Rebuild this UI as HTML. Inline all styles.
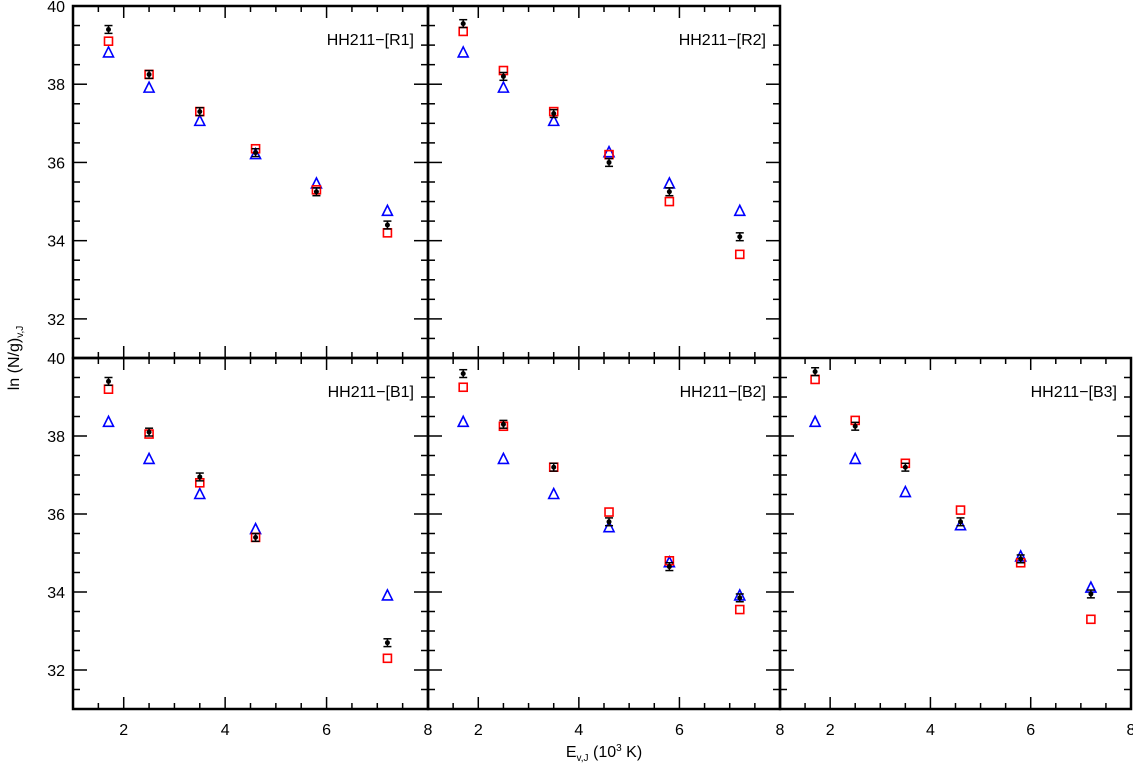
<!DOCTYPE html>
<html><head><meta charset="utf-8"><style>
body{margin:0;background:#fff;}
svg{display:block;font-family:"Liberation Sans","DejaVu Sans",sans-serif;}
</style></head><body>
<svg id="c" width="1133" height="766"></svg>
<script>
const energies=[1.7,2.5,3.5,4.6,5.8,7.2];
const panelNames=["HH211−[R1]","HH211−[R2]","HH211−[B1]","HH211−[B2]","HH211−[B3]"];
const obsR1=[39.4,38.25,37.3,36.25,35.25,34.4];
const redR1=[39.1,38.25,37.3,36.35,35.3,34.2];
const blueR1=[38.8,37.9,37.05,36.2,35.45,34.75];
const obsR2=[39.55,38.2,37.25,36.0,35.25,34.1];
const redR2=[39.35,38.35,37.3,36.2,35.0,33.65];
const blueR2=[38.8,37.9,37.05,36.25,35.45,34.75];
const obsB1=[39.4,38.1,36.95,35.4,null,32.7];
const redB1=[39.2,38.05,36.8,35.4,null,32.3];
const blueB1=[38.35,37.4,36.5,35.6,null,33.9];
const obsB2=[39.6,38.3,37.2,35.8,34.65,33.85];
const redB2=[39.25,38.25,37.2,36.05,34.8,33.55];
const blueB2=[38.35,37.4,36.5,35.65,34.75,33.9];
const obsB3=[39.65,38.25,37.2,35.8,34.85,33.95];
const redB3=[39.45,38.4,37.3,36.1,34.75,33.3];
const blueB3=[38.35,37.4,36.55,35.7,34.9,34.1];
const xTicks=[2,4,6,8];
const yTicks=[32,34,36,38,40];
const errBar=0.1;

const svg=document.getElementById('c');
const NS='http://www.w3.org/2000/svg';
function el(t,a,p){const e=document.createElementNS(NS,t);for(const k in a)e.setAttribute(k,a[k]);(p||svg).appendChild(e);return e;}
const panels=[
 {x0:73,x1:428,y0:6,y1:358,obs:obsR1,red:redR1,blue:blueR1,name:panelNames[0],left:true,bottom:false},
 {x0:428,x1:780,y0:6,y1:358,obs:obsR2,red:redR2,blue:blueR2,name:panelNames[1],left:false,bottom:false},
 {x0:73,x1:428,y0:358,y1:709,obs:obsB1,red:redB1,blue:blueB1,name:panelNames[2],left:true,bottom:true},
 {x0:428,x1:780,y0:358,y1:709,obs:obsB2,red:redB2,blue:blueB2,name:panelNames[3],left:false,bottom:true},
 {x0:780,x1:1131,y0:358,y1:709,obs:obsB3,red:redB3,blue:blueB3,name:panelNames[4],left:false,bottom:true}
];
panels.forEach((p,pi)=>{
 const g=el('g',{});
 
 
 const sx=v=>p.x0+(v-1)/7*(p.x1-p.x0);
 const sy=v=>p.y1-(v-31)/9*(p.y1-p.y0);
 const fr=el('rect',{x:p.x0,y:p.y0,width:p.x1-p.x0,height:p.y1-p.y0,fill:'none',stroke:'#000','stroke-width':2.5},g);
 
 
 for(let v=1.5;v<8;v+=0.5){const L=Math.abs(v%2)<1e-6?12:6;const x=sx(v);
  el('line',{x1:x,y1:p.y1,x2:x,y2:p.y1-L,stroke:'#000','stroke-width':1.5},g);
  el('line',{x1:x,y1:p.y0,x2:x,y2:p.y0+L,stroke:'#000','stroke-width':1.5},g);}
 for(let v=31.5;v<40;v+=0.5){const L=Math.abs(v%2)<1e-6?14:7;const y=sy(v);
  el('line',{x1:p.x0,y1:y,x2:p.x0+L,y2:y,stroke:'#000','stroke-width':1.5},g);
  el('line',{x1:p.x1,y1:y,x2:p.x1-L,y2:y,stroke:'#000','stroke-width':1.5},g);}
 if(p.bottom) xTicks.forEach(t=>{const tx=el('text',{x:sx(t),y:735,'font-size':16,'text-anchor':'middle'},g);tx.textContent=t;
  });
 if(p.left) yTicks.forEach(t=>{const tx=el('text',{x:p.x0-8,y:sy(t)+6,'font-size':16,'text-anchor':'end'},g);tx.textContent=t;
  });
 const lab=el('text',{x:p.x1-14,y:p.y0+39,'font-size':16,'text-anchor':'end'},g);lab.textContent=p.name;
 
 energies.forEach((e,i)=>{
  const x=sx(e);
  if(p.blue[i]!=null){const y=sy(p.blue[i]);
   const t=el('polygon',{points:`${x},${y-6} ${x-5},${y+4} ${x+5},${y+4}`,fill:'none',stroke:'#00f','stroke-width':1.6},g);
   }
  if(p.red[i]!=null){const y=sy(p.red[i]);
   const r=el('rect',{x:x-4,y:y-4,width:8,height:8,fill:'none',stroke:'#f00','stroke-width':1.6},g);
   }
  if(p.obs[i]!=null){const y=sy(p.obs[i]);const y1=sy(p.obs[i]+errBar),y2=sy(p.obs[i]-errBar);
   el('line',{x1:x,y1:y1,x2:x,y2:y2,stroke:'#000','stroke-width':1.5},g);
   el('line',{x1:x-4,y1:y1,x2:x+4,y2:y1,stroke:'#000','stroke-width':1.5},g);
   el('line',{x1:x-4,y1:y2,x2:x+4,y2:y2,stroke:'#000','stroke-width':1.5},g);
   const c=el('circle',{cx:x,cy:y,r:2.5,fill:'#000'},g);
   }
 });
});
const xt=el('text',{x:604,y:757,'font-size':16,'text-anchor':'middle'});
xt.innerHTML='E<tspan font-size="10" dy="4">v,J</tspan><tspan dy="-4"> (10</tspan><tspan font-size="10" dy="-6">3</tspan><tspan dy="6"> K)</tspan>';


const yt=el('text',{x:0,y:0,'font-size':16,'text-anchor':'middle',transform:'translate(19,358) rotate(-90)'});
yt.innerHTML='ln (N/g)<tspan font-size="10" dy="4">v,J</tspan>';


</script>
</body></html>
